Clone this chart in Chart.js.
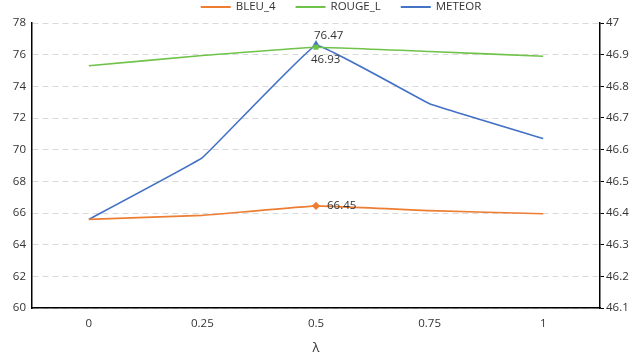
<!DOCTYPE html>
<html>
<head>
<meta charset="utf-8">
<script src="https://cdn.jsdelivr.net/npm/chart.js@4.4.1/dist/chart.umd.min.js"></script>
<style>
  html, body { margin: 0; padding: 0; background: #fff; }
  #wrap { width: 640px; height: 362px; }
</style>
</head>
<body>
<div id="wrap"><canvas id="mycanvas" width="640" height="362"></canvas></div>
<script>
// values
var lambdas = ["0", "0.25", "0.5", "0.75", "1"];
var bleu4 = [65.6, 65.85, 66.45, 66.15, 65.95];
var rougeL = [75.3, 75.95, 76.47, 76.2, 75.9];
var meteor = [46.38, 46.575, 46.93, 46.745, 46.635];
var leftTicks = [60, 78, 2];
var rightTicks = [46.1, 47, 0.1];

var orange = "#ED7D31";
var green = "#70C34A";
var blue = "#4472C4";
var txt = "#333333";
var fontStr = "11.5px 'Open Sans', sans-serif";

// mark only the peak (index 2)
function peak(r) {
  return function (c) { return c.dataIndex === 2 ? r : 0; };
}

// legend drawn by hand so it can sit tight at the top like the original
var legendPlugin = {
  id: "topLegend",
  afterDraw: function (chart) {
    var ctx = chart.ctx;
    ctx.save();
    ctx.font = fontStr;
    var sets = chart.data.datasets;
    var lineW = 30, gap = 5, between = 20;
    var total = 0;
    sets.forEach(function (d, i) {
      total += lineW + gap + ctx.measureText(d.label).width + (i < sets.length - 1 ? between : 0);
    });
    var x = 341 - total / 2, y = 7;
    sets.forEach(function (d) {
      ctx.strokeStyle = d.borderColor;
      ctx.lineWidth = 2;
      ctx.beginPath();
      ctx.moveTo(x, y);
      ctx.lineTo(x + lineW, y);
      ctx.stroke();
      x += lineW + gap;
      ctx.fillStyle = txt;
      ctx.textAlign = "left";
      ctx.textBaseline = "middle";
      ctx.fillText(d.label, x, y);
      x += ctx.measureText(d.label).width + between;
    });
    ctx.restore();
  }
};

var labelsPlugin = {
  id: "peakLabels",
  afterDatasetsDraw: function (chart) {
    var ctx = chart.ctx;
    ctx.save();
    ctx.font = fontStr;
    ctx.fillStyle = txt;
    ctx.textAlign = "left";
    ctx.textBaseline = "middle";
    var p;
    p = chart.getDatasetMeta(0).data[2];
    ctx.fillText(bleu4[2].toFixed(2), p.x + 11, p.y);
    p = chart.getDatasetMeta(1).data[2];
    ctx.fillText(rougeL[2].toFixed(2), p.x - 2, p.y - 12);
    p = chart.getDatasetMeta(2).data[2];
    ctx.fillText(meteor[2].toFixed(2), p.x - 5, p.y + 15);
    ctx.restore();
  }
};

var chartdata = {
  labels: lambdas,
  datasets: [
    {
      label: "BLEU_4",
      data: bleu4,
      yAxisID: "y",
      borderColor: orange,
      backgroundColor: orange,
      borderWidth: 1.6,
      tension: 0.06,
      pointStyle: "rectRot",
      pointRadius: peak(3),
      pointBackgroundColor: orange,
      pointBorderColor: orange
    },
    {
      label: "ROUGE_L",
      data: rougeL,
      yAxisID: "y",
      borderColor: green,
      backgroundColor: green,
      borderWidth: 1.6,
      tension: 0.06,
      pointStyle: "rect",
      pointRadius: peak(2.5),
      pointBackgroundColor: green,
      pointBorderColor: green
    },
    {
      label: "METEOR",
      data: meteor,
      yAxisID: "y1",
      borderColor: blue,
      backgroundColor: blue,
      borderWidth: 1.6,
      tension: 0.06,
      pointStyle: "triangle",
      pointRadius: peak(3.5),
      pointBackgroundColor: blue,
      pointBorderColor: blue
    }
  ]
};

Chart.defaults.font.family = "'Open Sans', sans-serif";
Chart.defaults.font.size = 11.5;
Chart.defaults.color = txt;

var LineGraph = new Chart(document.getElementById("mycanvas"), {
  type: "line",
  data: chartdata,
  plugins: [labelsPlugin, legendPlugin],
  options: {
    responsive: false,
    animation: false,
    layout: { padding: { top: 23, right: 0, left: 0, bottom: 0 } },
    plugins: {
      tooltip: { enabled: false },
      legend: { display: false }
    },
    scales: {
      x: {
        offset: true,
        grid: { display: false, drawTicks: false },
        border: { color: "#000", width: 1.5 },
        ticks: { padding: 9, color: txt },
        title: { display: true, text: "λ", color: txt, font: { size: 13 }, padding: { top: 0, bottom: 6 } },
        afterFit: function (s) { s.height = 54; }
      },
      y: {
        position: "left",
        min: leftTicks[0],
        max: leftTicks[1],
        ticks: { stepSize: leftTicks[2], padding: 6, color: txt },
        grid: { color: "#D9D9D9", drawTicks: false },
        border: { color: "#000", width: 1.5, dash: [6, 4] },
        afterFit: function (s) { s.width = 32; }
      },
      y1: {
        position: "right",
        min: rightTicks[0],
        max: rightTicks[1],
        ticks: { stepSize: rightTicks[2], padding: 2, color: txt,
                 callback: function (v) { return Math.round(v * 10) / 10; } },
        grid: { drawOnChartArea: false, tickLength: 4, color: "#000", tickColor: "#000", tickWidth: 1 },
        border: { color: "#000", width: 1.5 },
        afterFit: function (s) { s.width = 40; }
      }
    }
  }
});
</script>
</body>
</html>
